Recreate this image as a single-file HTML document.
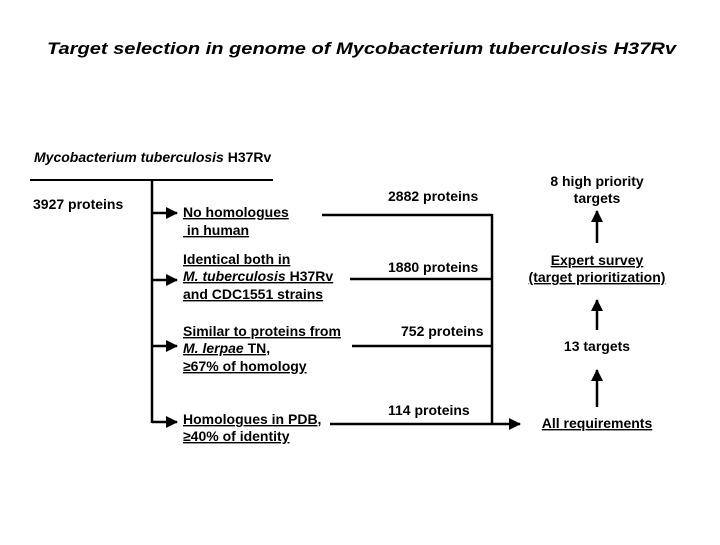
<!DOCTYPE html>
<html><head><meta charset="utf-8"><style>
body{margin:0;background:#fff}
svg text{font-family:"Liberation Sans",Arial,sans-serif;fill:#000}
.b{font-weight:bold;font-size:14px}
</style></head><body>
<svg width="720" height="540" viewBox="0 0 720 540" xmlns="http://www.w3.org/2000/svg">
<defs>
<marker id="u" markerWidth="12" markerHeight="12" refX="11" refY="6" orient="auto" markerUnits="userSpaceOnUse"><path d="M0,0 L12,6 L0,12 z" fill="#000"/></marker></defs>
<text x="47" y="54" font-size="17" font-weight="bold" font-style="italic" textLength="629" lengthAdjust="spacingAndGlyphs">Target selection in genome of Mycobacterium tuberculosis H37Rv</text>
<text x="34" y="162" class="b"><tspan font-style="italic">Mycobacterium tuberculosis</tspan> H37Rv</text>
<line x1="30" y1="180" x2="273" y2="180" stroke="#000" stroke-width="2"/>
<text x="33" y="209" class="b">3927 proteins</text>
<line x1="152" y1="180" x2="152" y2="423" stroke="#000" stroke-width="2.5"/>
<g stroke="#000" stroke-width="2.5">
<line x1="152" y1="213" x2="177" y2="213" marker-end="url(#u)"/>
<line x1="152" y1="280" x2="177" y2="280" marker-end="url(#u)"/>
<line x1="152" y1="346" x2="177" y2="346" marker-end="url(#u)"/>
<line x1="152" y1="422" x2="177" y2="422" marker-end="url(#u)"/>
</g>
<g class="b" text-decoration="underline">
<text x="183" y="217">No homologues</text>
<text x="183" y="235">&#160;in human</text>
<text x="183" y="264">Identical both in</text>
<text x="183" y="281"><tspan font-style="italic">M. tuberculosis</tspan> H37Rv</text>
<text x="183" y="299">and CDC1551 strains</text>
<text x="183" y="336">Similar to proteins from</text>
<text x="183" y="353"><tspan font-style="italic">M. lerpae</tspan> TN,</text>
<text x="183" y="371">≥67% of homology</text>
<text x="183" y="424">Homologues in PDB,</text>
<text x="183" y="441">≥40% of identity</text>
</g>
<g stroke="#000" stroke-width="2.5" fill="none">
<line x1="322" y1="215" x2="492" y2="215"/>
<line x1="350" y1="279" x2="492" y2="279"/>
<line x1="352" y1="346" x2="492" y2="346"/>
<line x1="492" y1="214" x2="492" y2="425"/>
<line x1="330" y1="424" x2="520" y2="424" marker-end="url(#u)"/>
<line x1="597" y1="407" x2="597" y2="370" marker-end="url(#u)"/>
<line x1="597" y1="330" x2="597" y2="300" marker-end="url(#u)"/>
<line x1="597" y1="243" x2="597" y2="211" marker-end="url(#u)"/>
</g>
<g class="b">
<text x="388" y="201">2882 proteins</text>
<text x="388" y="272">1880 proteins</text>
<text x="401" y="336">752 proteins</text>
<text x="388" y="415">114 proteins</text>
<g text-anchor="middle">
<text x="597" y="186">8 high priority</text>
<text x="597" y="203">targets</text>
<text x="597" y="265" text-decoration="underline">Expert survey</text>
<text x="597" y="282" text-decoration="underline">(target prioritization)</text>
<text x="597" y="351">13 targets</text>
<text x="597" y="428" text-decoration="underline">All requirements</text>
</g></g>
</svg>
</body></html>
